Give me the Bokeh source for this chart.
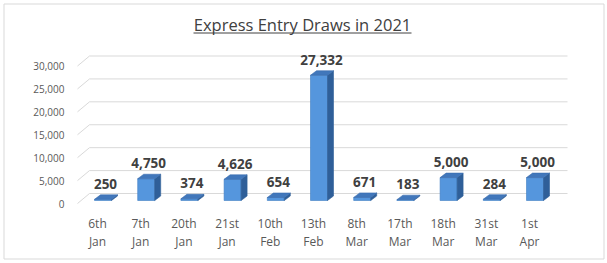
from bokeh.plotting import figure
from bokeh.models import Range1d
from bokeh.core.properties import value
from bokeh.embed import file_html
from bokeh.resources import INLINE

# ---- data ----
categories = ["6th\nJan", "7th\nJan", "20th\nJan", "21st\nJan", "10th\nFeb", "13th\nFeb",
              "8th\nMar", "17th\nMar", "18th\nMar", "31st\nMar", "1st\nApr"]
draws = [250, 4750, 374, 4626, 654, 27332, 671, 183, 5000, 284, 5000]
y_ticks = [0, 5000, 10000, 15000, 20000, 25000, 30000]
title_text = "Express Entry Draws in 2021"

# ---- layout (pixel geometry -> data units via the plot's linear scales) ----
W, H = 607, 263
PX_X = 43.2                  # px per category
X0_PX = 97                   # px of first category centre
PX_Y = 4.583 / 1000.0        # px per unit value
Y0_PX = 203                  # px of value 0 on the front plane

ux = 1.0 / PX_X
uy = 1.0 / PX_Y


def dx(px):   # canvas x px -> data x
    return (px - X0_PX) * ux


def dy(py):   # canvas y px (from top) -> data y
    return (Y0_PX - py) * uy


p = figure(width=W, height=H, output_backend="svg", toolbar_location=None,
           x_range=Range1d(dx(0), dx(W)), y_range=Range1d(dy(H), dy(0)),
           min_border=0, min_border_left=0, min_border_right=0,
           min_border_top=0, min_border_bottom=0)
p.xaxis.visible = False
p.yaxis.visible = False
p.xgrid.visible = False
p.ygrid.visible = False
p.outline_line_color = None
p.background_fill_color = "white"
p.border_fill_color = "white"

FONT = value("Open Sans")

# ---- outer chart border ----
p.quad(left=[dx(3.5)], right=[dx(603.5)], top=[dy(3.5)], bottom=[dy(258.5)],
       fill_color=None, line_color="#D9D9D9", line_width=1)

# ---- title ----
p.text([dx(302)], [dy(24)], text=[title_text], text_align="center", text_baseline="middle",
       text_font=FONT, text_font_size="16.5px", text_color="#404040")
p.segment([dx(193)], [dy(32.5)], [dx(411)], [dy(32.5)], line_color="#404040", line_width=1)

# ---- 3D wall gridlines ----
WALL_L, WALL_R = 77, 567
WALL_DX, WALL_DY = 12, 10
n = len(y_ticks)
gx0 = [dx(WALL_L)] * n
gx1 = [dx(WALL_L + WALL_DX)] * n
gxe = [dx(WALL_R)] * n
gy0 = list(y_ticks)
gy1 = [v + WALL_DY * uy for v in y_ticks]
p.segment(gx0, gy0, gx1, gy1, line_color="#D9D9D9", line_width=1)
p.segment(gx1, gy1, gxe, gy1, line_color="#D9D9D9", line_width=1)

# ---- y tick labels ----
p.text([dx(64)] * n, y_ticks, text=[f"{v:,}" for v in y_ticks], text_align="right",
       text_baseline="middle", text_font=FONT, text_font_size="10px", text_color="#595959")

# ---- 3D columns ----
FACE_OFF, HALF_W = 5.5, 8.5
DEPTH_DX, DEPTH_DY = 6, 4.5
BASE = 3 * uy
xs = list(range(len(draws)))
lefts = [i + (FACE_OFF - HALF_W) * ux for i in xs]
rights = [i + (FACE_OFF + HALF_W) * ux for i in xs]
tops = [BASE + v for v in draws]

side_x, side_y, top_x, top_y = [], [], [], []
ddx, ddy = DEPTH_DX * ux, DEPTH_DY * uy
for l, r, t in zip(lefts, rights, tops):
    side_x.append([r, r + ddx, r + ddx, r])
    side_y.append([BASE, BASE + ddy, t + ddy, t])
    top_x.append([l, r, r + ddx, l + ddx])
    top_y.append([t, t, t + ddy, t + ddy])

p.quad(left=lefts, right=rights, bottom=[BASE] * len(draws), top=tops,
       fill_color="#5596DD", line_color="#3F7DC2", line_width=0.6)
p.patches(side_x, side_y, fill_color="#2F5F99", line_color="#2F5F99", line_width=0.6)
p.patches(top_x, top_y, fill_color="#4177BB", line_color="#3A6DAE", line_width=0.6)

# ---- data labels ----
lab_x = [i + (FACE_OFF + 2.5) * ux for i in xs]
lab_y = [t + (DEPTH_DY + 11) * uy for t in tops]
p.text(lab_x, lab_y, text=[f"{v:,}" for v in draws], text_align="center",
       text_baseline="middle", text_font=FONT, text_font_style="bold",
       text_font_size="13.5px", text_color="#404040")

# ---- category labels (two lines) ----
day_labels = [c.split("\n")[0] for c in categories]
month_labels = [c.split("\n")[1] for c in categories]
p.text(xs, [dy(223)] * len(xs), text=day_labels, text_align="center", text_baseline="middle",
       text_font=FONT, text_font_size="12px", text_color="#595959")
p.text(xs, [dy(241)] * len(xs), text=month_labels, text_align="center", text_baseline="middle",
       text_font=FONT, text_font_size="12px", text_color="#595959")

open("out.html", "w").write(file_html(p, INLINE))
